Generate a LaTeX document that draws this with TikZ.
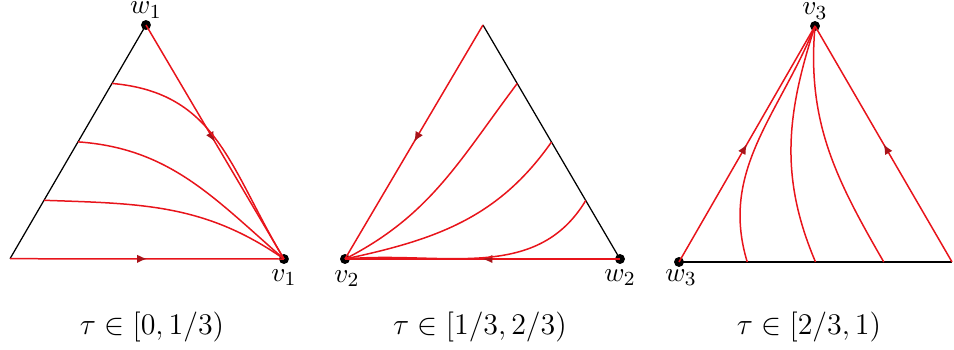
\documentclass[tikz,border=0pt]{standalone}
\usepackage{amsmath}
\usepackage{tikz}
\usetikzlibrary{
  arrows.meta,
  calc,
  decorations.markings
}
\usepackage{xcolor}
\definecolor{flowred}{HTML}{E8141B}
\definecolor{tipred}{HTML}{A8141A}
\tikzset{
  side/.style={
    draw=black,
    line width=0.5pt
  },
  flow/.style={
    draw=flowred,
    line width=0.6pt
  },
  midarrow/.style={
    flow,
    postaction={decorate},
    decoration={
      markings,
      mark=at position 0.5 with {\arrow[tipred]{Latex[length=1.4mm,width=1.2mm]}}
    }
  },
  vertex/.style={
    circle,
    fill=black,
    inner sep=0pt,
    minimum size=1.4mm
  },
  vlabel/.style={
    font=\fontsize{11}{13}\selectfont,
    inner sep=0.5pt
  },
  toplabel/.style={
    vlabel,
    inner sep=0pt,
    anchor=south,
    yshift=0.4pt
  },
  caption/.style={
    font=\fontsize{13}{15}\selectfont
  }
}

\begin{document}
\begin{tikzpicture}
\useasboundingbox (0,0) rectangle (13.418,4.909);

% Triangle 1
\coordinate (A1) at (0.141,1.27);
\node[vertex] (W1) at (2.053,4.557) {};
\node[vertex] (V1) at (3.994,1.266) {};
\coordinate (L1a) at ($(A1)!0.75!(W1)$);
\coordinate (L1b) at ($(A1)!0.5!(W1)$);
\coordinate (L1c) at ($(A1)!0.25!(W1)$);
\draw[side] (A1) -- (W1.center);
\draw[midarrow] (A1) -- (V1.center);
\draw[midarrow] (W1.center) -- (V1.center);
\draw[flow] (L1a) to[out=-5,in=121,looseness=1.1] (V1.center);
\draw[flow] (L1b) to[out=-4,in=139] (V1.center);
\draw[flow] (L1c) to[out=-2,in=145] (V1.center);
\node[toplabel] (w1) at (W1.north) {$w_1$};
\node[vlabel] (v1) at (3.994,0.999) {$v_1$};

% Triangle 2
\node[vertex] (V2) at (4.852,1.266) {};
\coordinate (T2) at (6.793,4.557);
\node[vertex] (W2) at (8.720,1.266) {};
\coordinate (R2a) at ($(T2)!0.25!(W2)$);
\coordinate (R2b) at ($(T2)!0.5!(W2)$);
\coordinate (R2c) at ($(T2)!0.75!(W2)$);
\draw[side] (T2) -- (W2.center);
\draw[midarrow] (T2) -- (V2.center);
\draw[midarrow] (W2.center) -- (V2.center);
\draw[flow] (R2a) to[out=233,in=27] (V2.center);
\draw[flow] (R2b) to[out=235,in=12] (V2.center);
\draw[flow] (R2c) to[out=239,in=5] (V2.center);
\node[vlabel] (v2) at (4.880,0.990) {$v_2$};
\node[vlabel] (w2) at (8.720,0.999) {$w_2$};

% Triangle 3
\node[vertex] (W3) at (9.550,1.224) {};
\node[vertex] (V3) at (11.463,4.543) {};
\coordinate (B3) at (13.390,1.224);
\coordinate (D3a) at ($(W3)!0.25!(B3)$);
\coordinate (D3b) at ($(W3)!0.5!(B3)$);
\coordinate (D3c) at ($(W3)!0.75!(B3)$);
\draw[side] (W3.center) -- (B3);
\draw[midarrow] (W3.center) -- (V3.center);
\draw[midarrow] (B3) -- (V3.center);
\draw[flow] (D3a) to[out=107,in=248] (V3.center);
\draw[flow] (D3b) to[out=113,in=252] (V3.center);
\draw[flow] (D3c) to[out=120,in=265] (V3.center);
\node[toplabel] (v3) at (V3.north) {$v_3$};
\node[vlabel] (w3) at (9.578,0.999) {$w_3$};

% Captions
\node[caption] (cap1) at (2.138,0.309) {$\tau\in[0,1/3)$};
\node[caption] (cap2) at (6.751,0.309) {$\tau\in[1/3,2/3)$};
\node[caption] (cap3) at (11.378,0.309) {$\tau\in[2/3,1)$};
\end{tikzpicture}
\end{document}
